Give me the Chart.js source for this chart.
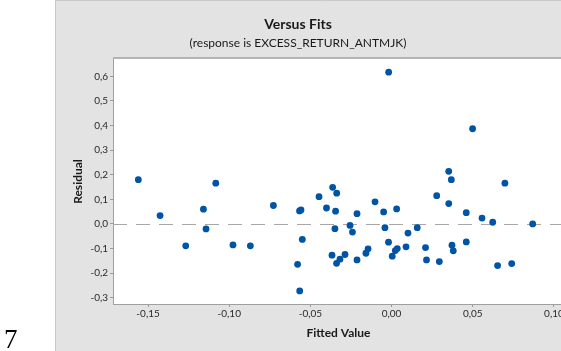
<!DOCTYPE html>
<html>
<head>
<meta charset="utf-8">
<script src="https://cdn.jsdelivr.net/npm/chart.js@4/dist/chart.umd.min.js"></script>
<style>
html,body{margin:0;padding:0;overflow:hidden;background:#fff;width:561px;height:351px;}
#wrap{position:absolute;left:0;top:0;width:600px;height:351px;}
.t{position:absolute;white-space:nowrap;transform:translateX(-50%);color:#1a1a1a;font-family:Lato,"Noto Sans",sans-serif;}
#title{left:298px;top:15px;font-size:14px;font-weight:bold;line-height:18px;}
#sub{left:298px;top:35px;font-size:12px;line-height:15px;}
#seven{position:absolute;left:4px;top:326px;font-family:"Liberation Serif","DejaVu Serif",serif;font-size:27px;line-height:27px;color:#000;}
</style>
</head>
<body>
<div id="wrap"><canvas id="c"></canvas></div>
<div class="t" id="title">Versus Fits</div>
<div class="t" id="sub">(response is EXCESS_RETURN_ANTMJK)</div>
<div id="seven">7</div>
<script>
const fittedValues = [
  -0.156, -0.1426, -0.1268, -0.1159, -0.1143, -0.1083, -0.0977, -0.0870, -0.0728, -0.0567,
  -0.0558, -0.0550, -0.0579, -0.0566, -0.0447, -0.0363, -0.0338, -0.0401, -0.0345, -0.0349,
  -0.0213, -0.0256, -0.0241, -0.0367, -0.0339, -0.0318, -0.0287, -0.0213, -0.0158, -0.0145,
  -0.0102, -0.0049, -0.0041, -0.0019, -0.0018, 0.0031, 0.0004, 0.0023, 0.0035, 0.0089,
  0.0101, 0.0158, 0.0209, 0.0215, 0.0278, 0.0294, 0.0352, 0.0368, 0.0352, 0.0372,
  0.0380, 0.0460, 0.0460, 0.0499, 0.0557, 0.0623, 0.0653, 0.0698, 0.0740, 0.0869
];
const residuals = [
  0.180, 0.034, -0.089, 0.060, -0.020, 0.166, -0.085, -0.089, 0.075, 0.053,
  0.057, -0.063, -0.164, -0.272, 0.111, 0.149, 0.125, 0.065, 0.052, -0.019,
  0.042, -0.006, -0.033, -0.127, -0.160, -0.143, -0.124, -0.146, -0.119, -0.101,
  0.090, 0.049, -0.015, -0.074, 0.617, 0.061, -0.131, -0.108, -0.100, -0.093,
  -0.037, -0.015, -0.096, -0.146, 0.115, -0.153, 0.214, 0.180, 0.083, -0.086,
  -0.109, 0.046, -0.073, 0.387, 0.024, 0.007, -0.169, 0.166, -0.161, 0.000
];
const xTickValues = [-0.15, -0.10, -0.05, 0.00, 0.05, 0.10];
const xTickLabels = ["-0,15", "-0,10", "-0,05", "0,00", "0,05", "0,10"];
const yTickValues = [-0.3, -0.2, -0.1, 0.0, 0.1, 0.2, 0.3, 0.4, 0.5, 0.6];
const yTickLabels = ["-0,3", "-0,2", "-0,1", "0,0", "0,1", "0,2", "0,3", "0,4", "0,5", "0,6"];
const referenceResidual = 0;

const points = fittedValues.map((x, i) => ({x: x, y: residuals[i]}));

const bgPlugin = {
  id: 'bg',
  beforeDraw(chart) {
    const {ctx, chartArea: a, width, height} = chart;
    ctx.save();
    ctx.fillStyle = '#ffffff';
    ctx.fillRect(0, 0, width, height);
    ctx.fillStyle = '#e3e3e3';
    ctx.fillRect(55, 0, width - 55, height);
    ctx.strokeStyle = '#c8c8c8';
    ctx.lineWidth = 1;
    ctx.beginPath();
    ctx.moveTo(55.5, height); ctx.lineTo(55.5, 0.5); ctx.lineTo(width, 0.5);
    ctx.stroke();
    ctx.fillStyle = '#ffffff';
    ctx.fillRect(a.left, a.top, a.right - a.left, a.bottom - a.top);
    ctx.restore();
  },
  beforeDatasetsDraw(chart) {
    const {ctx, chartArea: a, scales} = chart;
    const y0 = Math.round(scales.y.getPixelForValue(referenceResidual)) + 0.5;
    ctx.save();
    ctx.strokeStyle = '#a8a8a8';
    ctx.lineWidth = 1;
    ctx.setLineDash([14, 9]);
    ctx.beginPath();
    ctx.moveTo(a.left, y0); ctx.lineTo(a.right, y0);
    ctx.stroke();
    ctx.setLineDash([]);
    // top border shadow
    ctx.strokeStyle = '#b4b4b4';
    ctx.lineWidth = 2;
    ctx.beginPath();
    ctx.moveTo(a.left, a.top - 1); ctx.lineTo(a.right, a.top - 1);
    ctx.stroke();
    ctx.restore();
  }
};

const fontFam = 'Lato, "Noto Sans", sans-serif';

new Chart(document.getElementById('c'), {
  type: 'scatter',
  data: {
    datasets: [{
      data: points,
      backgroundColor: '#0054a6',
      borderColor: '#0054a6',
      borderWidth: 0,
      pointRadius: 3.4,
      pointHoverRadius: 3.4
    }]
  },
  options: {
    responsive: true,
    maintainAspectRatio: false,
    animation: false,
    layout: {padding: {left: 55, top: 59, right: 36, bottom: 0}},
    plugins: {legend: {display: false}, tooltip: {enabled: false}},
    scales: {
      x: {
        type: 'linear',
        min: -0.1716,
        max: 0.1062,
        afterFit: s => { s.height = 47; },
        afterBuildTicks: s => { s.ticks = xTickValues.map(v => ({value: v})); },
        ticks: {
          callback: (v, i) => xTickLabels[i],
          font: {family: fontFam, size: 10},
          color: '#2a2a2a',
          padding: 1,
          maxRotation: 0,
          autoSkip: false
        },
        grid: {display: true, drawOnChartArea: false, drawTicks: true, tickLength: 3, color: '#9a9a9a'},
        border: {display: true, color: '#a0a0a0'},
        title: {
          display: true,
          text: 'Fitted Value',
          font: {family: fontFam, size: 12, weight: 'bold'},
          color: '#1a1a1a',
          padding: {top: 0, bottom: 11}
        }
      },
      y: {
        type: 'linear',
        min: -0.3253,
        max: 0.6706,
        afterFit: s => { s.width = 58; },
        afterBuildTicks: s => { s.ticks = yTickValues.map(v => ({value: v})); },
        ticks: {
          callback: (v, i) => yTickLabels[i],
          font: {family: fontFam, size: 10},
          color: '#2a2a2a',
          padding: 2,
          autoSkip: false
        },
        grid: {display: true, drawOnChartArea: false, drawTicks: true, tickLength: 3, color: '#9a9a9a'},
        border: {display: true, color: '#a0a0a0'},
        title: {
          display: true,
          text: 'Residual',
          font: {family: fontFam, size: 12, weight: 'bold'},
          color: '#1a1a1a',
          padding: {top: 16, bottom: 0}
        }
      }
    }
  },
  plugins: [bgPlugin]
});
</script>
</body>
</html>
